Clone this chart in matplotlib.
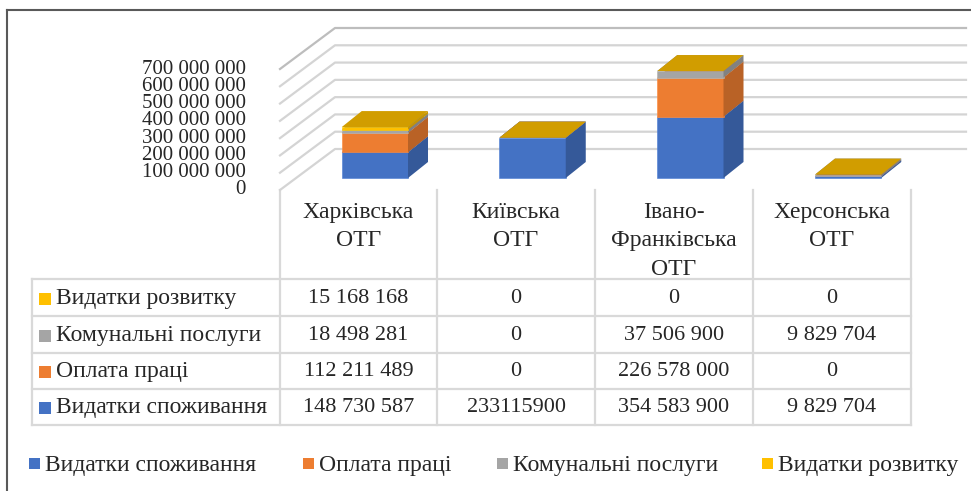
import matplotlib
matplotlib.use('Agg')
import matplotlib.pyplot as plt
from matplotlib.patches import Polygon, Rectangle
from matplotlib.lines import Line2D
import matplotlib.colors as mcolors

# ---------------- data ----------------
communities = ['Харківська\nОТГ', 'Київська\nОТГ', 'Івано-\nФранківська\nОТГ', 'Херсонська\nОТГ']
series_names = ['Видатки споживання', 'Оплата праці', 'Комунальні послуги', 'Видатки розвитку']
consumption = [148730587, 233115900, 354583900, 9829704]
salary = [112211489, 0, 226578000, 0]
utilities = [18498281, 0, 37506900, 9829704]
development = [15168168, 0, 0, 0]
y_ticks = [0, 100000000, 200000000, 300000000, 400000000, 500000000, 600000000, 700000000]
ungrouped_cells = {(0, 1)}  # (series, community) shown without digit grouping

series_values = [consumption, salary, utilities, development]
colors = ['#4472C4', '#ED7D31', '#A5A5A5', '#FFC000']

FONT = 'Liberation Serif'
plt.rcParams['font.family'] = [FONT, 'DejaVu Serif']
FS = 17       # cyrillic labels
FSN = 16      # numbers in table
TXT = '#262626'

W, H = 971, 491
fig = plt.figure(figsize=(W / 100, H / 100), dpi=100)


def rect(l, t, r, b):
    return [l / W, 1 - b / H, (r - l) / W, (b - t) / H]


# overlay axes in pixel coordinates (for table / legend / frame)
ov = fig.add_axes([0, 0, 1, 1])
ov.set_xlim(0, W)
ov.set_ylim(H, 0)
ov.axis('off')

# bar axes: front plane of the bars
BL, BR, BT, BB = 296, 927, 57, 178
ax = fig.add_axes(rect(BL, BT, BR, BB))
ax.set_xlim(-0.5, 3.5)
ax.set_ylim(0, 700000000)
ax.axis('off')
pxx = (BR - BL) / 4.0
pxy = (BB - BT) / 700000000.0


def du(p):
    return p / pxx


def dv(p):
    return p / pxy


def shade(c, f):
    r, g, b = mcolors.to_rgb(c)
    return (min(r * f, 1), min(g * f, 1), min(b * f, 1))


# ---- 3D gridlines (left wall + back wall) ----
x_front = -0.5 + du(280 - BL)
x_back_l = -0.5 + du(335 - BL)
x_back_r = -0.5 + du(966 - BL)
for v in y_ticks:
    col = '#bdbdbd' if v == y_ticks[-1] else '#d4d4d4'
    ax.add_line(Line2D([x_front, x_back_l, x_back_r],
                       [v - dv(12), v + dv(29), v + dv(29)],
                       color=col, lw=1.6, clip_on=False, zorder=1))
    ax.text(-0.5 + du(246 - BL), v - dv(12), f"{v:,}".replace(',', ' '),
            ha='right', va='center', fontsize=15, color=TXT, clip_on=False)

# ---- 3D stacked bars ----
bw = 0.42
ddx, ddy = du(20), dv(16)
for i in range(len(communities)):
    bottom = 0
    x0, x1 = i - bw / 2, i + bw / 2
    for s, vals in enumerate(series_values):
        h = vals[i]
        c = colors[s]
        if h > 0:
            ax.add_patch(Rectangle((x0, bottom), bw, h, facecolor=c,
                                   edgecolor=shade(c, 1.08),
                                   lw=0.4, clip_on=False, zorder=3))
            ax.add_patch(Polygon([(x1, bottom), (x1 + ddx, bottom + ddy),
                                  (x1 + ddx, bottom + h + ddy), (x1, bottom + h)],
                                 closed=True, facecolor=shade(c, 0.78),
                                 edgecolor='none', clip_on=False, zorder=3))
        top = bottom + h
        ax.add_patch(Polygon([(x0, top), (x1, top), (x1 + ddx, top + ddy),
                              (x0 + ddx, top + ddy)],
                             closed=True, facecolor=shade(c, 0.82),
                             edgecolor='none', clip_on=False, zorder=3))
        bottom = top

# ---- data table ----
LINE = '#d9d9d9'
col_edges = [280, 437, 595, 753, 911]
row_edges = [279, 316, 353, 389, 425]
tbl_left = 32
for y in row_edges:
    ov.add_line(Line2D([tbl_left, col_edges[-1]], [y, y], color=LINE, lw=1.6))
ov.add_line(Line2D([tbl_left, tbl_left], [row_edges[0], row_edges[-1]], color=LINE, lw=1.6))
for x in col_edges:
    ov.add_line(Line2D([x, x], [190, row_edges[-1]], color=LINE, lw=1.6))

for j, name in enumerate(communities):
    cx = (col_edges[j] + col_edges[j + 1]) / 2
    ov.text(cx, 202, name, ha='center', va='top', fontsize=FS, color=TXT,
            linespacing=1.46)


def fmt(v, grouped=True):
    return f"{v:,}".replace(',', ' ') if grouped else str(v)


order = [3, 2, 1, 0]  # table rows top -> bottom
for r, s in enumerate(order):
    cy = (row_edges[r] + row_edges[r + 1]) / 2
    ov.add_patch(Rectangle((39, cy - 5), 12, 12, facecolor=colors[s], edgecolor='none'))
    ov.text(56, cy + 1, series_names[s], ha='left', va='center', fontsize=FS, color=TXT)
    for j in range(len(communities)):
        cx = (col_edges[j] + col_edges[j + 1]) / 2
        ov.text(cx, cy + 1, fmt(series_values[s][j], (s, j) not in ungrouped_cells),
                ha='center', va='center', fontsize=FSN, color=TXT)

# ---- legend ----
leg_x = [29, 303, 497, 762]
for s, name in enumerate(series_names):
    ov.add_patch(Rectangle((leg_x[s], 458), 11, 11, facecolor=colors[s], edgecolor='none'))
    ov.text(leg_x[s] + 16, 466, name, ha='left', va='center', fontsize=FS, color=TXT)

# ---- outer frame ----
ov.add_line(Line2D([7, 7], [10, H], color='#595959', lw=1.5))
ov.add_line(Line2D([7, W], [10, 10], color='#595959', lw=1.5))

fig.savefig('out.png', dpi=100)
